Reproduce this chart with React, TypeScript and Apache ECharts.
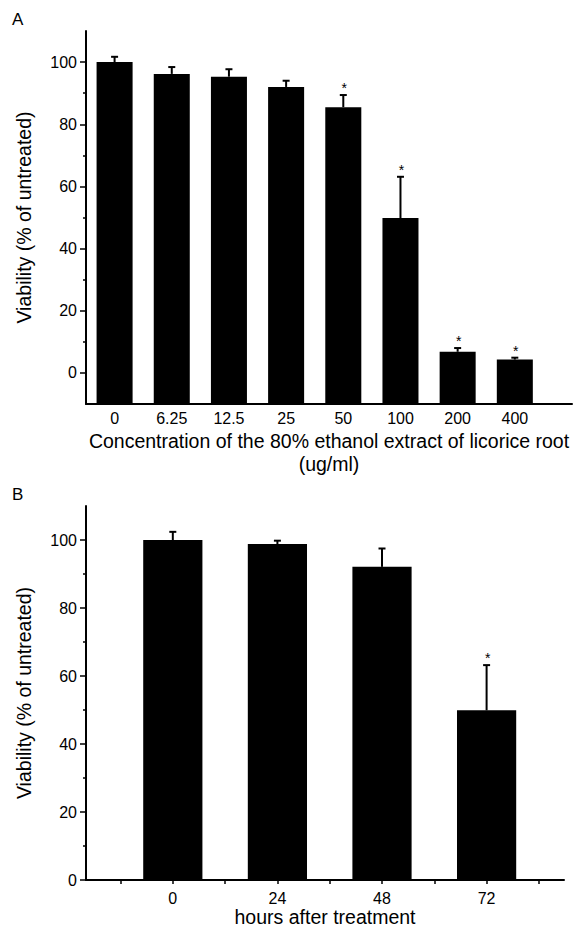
import React, { useEffect, useRef } from "react";
import * as echarts from "echarts";

// ---- Data ----
const concLabels = ["0", "6.25", "12.5", "25", "50", "100", "200", "400"];
const viabilityA = [100, 96.2, 95.3, 92.0, 85.5, 49.8, 6.8, 4.3];
const errorA = [1.7, 2.2, 2.4, 2.0, 3.9, 13.3, 1.2, 0.6];
const sigA = [0, 0, 0, 0, 1, 1, 1, 1];

const hourLabels = ["0", "24", "48", "72"];
const viabilityB = [100, 98.8, 92.1, 49.9];
const errorB = [2.4, 1.0, 5.4, 13.3];
const sigB = [0, 0, 0, 1];

const yMajorTicks = [0, 20, 40, 60, 80, 100];
const yMinorTicks = [10, 30, 50, 70, 90];

const FONT = "'Liberation Sans', Arial, sans-serif";

function makeRender(barFrac: number, yBase: number) {
  return (params: any, api: any) => {
    const x = api.value(0);
    const v = api.value(1);
    const e = api.value(2);
    const s = api.value(3);
    const top = api.coord([x, v]);
    const base = api.coord([x, yBase]);
    const errTop = api.coord([x, v + e]);
    const w = api.size([barFrac, 0])[0];
    const children: any[] = [
      {
        type: "rect",
        shape: { x: top[0] - w / 2, y: top[1], width: w, height: base[1] - top[1] },
        style: { fill: "#000" },
      },
      {
        type: "line",
        shape: { x1: top[0], y1: top[1], x2: errTop[0], y2: errTop[1] },
        style: { stroke: "#000", lineWidth: 2 },
      },
      {
        type: "line",
        shape: { x1: top[0] - 3.5, y1: errTop[1], x2: top[0] + 3.5, y2: errTop[1] },
        style: { stroke: "#000", lineWidth: 2 },
      },
    ];
    if (s) {
      children.push({
        type: "text",
        x: top[0] + 1,
        y: errTop[1] - 7,
        style: {
          text: "*",
          fontSize: 14,
          fontFamily: FONT,
          fill: "#000",
          align: "center",
          verticalAlign: "middle",
        },
      });
    }
    return { type: "group", children };
  };
}

export default function App() {
  const ref = useRef<HTMLDivElement>(null);
  useEffect(() => {
    if (!ref.current) return;
    const chart = echarts.init(ref.current, undefined, { renderer: "svg" });

    const dataA = viabilityA.map((v, i) => [i + 1, v, errorA[i], sigA[i]]);
    const dataB = viabilityB.map((v, i) => [i + 1, v, errorB[i], sigB[i]]);
    const bTicks: number[] = [];
    for (let i = 1; i <= hourLabels.length * 2 + 1; i++) bTicks.push(i * 0.5);

    const axisLineStyle = { color: "#000", width: 2 };
    const labelStyle = { color: "#000", fontSize: 16, fontFamily: FONT };
    const nameStyle = { color: "#000", fontSize: 19.5, fontFamily: FONT };

    const mainY = (gridIndex: number, min: number) => ({
      type: "value",
      gridIndex,
      position: "left",
      min,
      max: 110,
      name: "Viability (% of untreated)",
      nameLocation: "middle",
      nameGap: 52,
      nameTextStyle: nameStyle,
      axisLine: { show: true, onZero: false, lineStyle: axisLineStyle },
      axisTick: { show: true, length: 6, customValues: yMajorTicks, lineStyle: { color: "#000", width: 1.5 } },
      axisLabel: { show: true, margin: 9, customValues: yMajorTicks, ...labelStyle },
      splitLine: { show: false },
    });
    const minorY = (gridIndex: number, min: number) => ({
      type: "value",
      gridIndex,
      position: "left",
      offset: 0,
      min,
      max: 110,
      axisLine: { show: false, onZero: false },
      axisTick: { show: true, length: 3, customValues: yMinorTicks, lineStyle: { color: "#000", width: 1.5 } },
      axisLabel: { show: false },
      splitLine: { show: false },
    });

    chart.setOption({
      animation: false,
      backgroundColor: "#fff",
      grid: [
        { left: 86, right: 2, top: 31, height: 373 },
        { left: 86, right: 10, top: 506, height: 374 },
      ],
      xAxis: [
        {
          type: "value",
          gridIndex: 0,
          min: 0.5,
          max: 9,
          name: "Concentration of the 80% ethanol extract of licorice root\n(ug/ml)",
          nameLocation: "middle",
          nameGap: 25,
          nameTextStyle: { ...nameStyle, lineHeight: 23 },
          axisLine: { show: true, onZero: false, lineStyle: axisLineStyle },
          axisTick: { show: false },
          axisLabel: {
            show: true,
            margin: 6,
            customValues: concLabels.map((_, i) => i + 1),
            formatter: (v: number) => concLabels[Math.round(v) - 1] ?? "",
            ...labelStyle,
          },
          splitLine: { show: false },
        },
        {
          type: "value",
          gridIndex: 1,
          min: 0.17,
          max: 4.74,
          name: "hours after treatment",
          nameLocation: "middle",
          nameGap: 26,
          nameTextStyle: nameStyle,
          axisLine: { show: true, onZero: false, lineStyle: axisLineStyle },
          axisTick: { show: true, length: 4, customValues: bTicks, lineStyle: { color: "#000", width: 1.5 } },
          axisLabel: {
            show: true,
            margin: 10,
            customValues: hourLabels.map((_, i) => i + 1),
            formatter: (v: number) => hourLabels[Math.round(v) - 1] ?? "",
            ...labelStyle,
          },
          splitLine: { show: false },
        },
      ],
      yAxis: [mainY(0, -10), mainY(1, 0), minorY(0, -10), minorY(1, 0)],
      graphic: [
        { type: "text", left: 12, top: 11, style: { text: "A", fontSize: 17, fontFamily: FONT, fill: "#000" } },
        { type: "text", left: 12, top: 486, style: { text: "B", fontSize: 17, fontFamily: FONT, fill: "#000" } },
      ],
      series: [
        {
          type: "custom",
          xAxisIndex: 0,
          yAxisIndex: 0,
          renderItem: makeRender(0.63, -10),
          encode: { x: 0, y: 1 },
          data: dataA,
          clip: false,
        },
        {
          type: "custom",
          xAxisIndex: 1,
          yAxisIndex: 1,
          renderItem: makeRender(0.566, 0),
          encode: { x: 0, y: 1 },
          data: dataB,
          clip: false,
        },
      ],
    });
    return () => chart.dispose();
  }, []);
  return (
    <div
      ref={ref}
      style={{ position: "absolute", left: 0, top: 0, width: 574, height: 928, background: "#fff" }}
    />
  );
}
